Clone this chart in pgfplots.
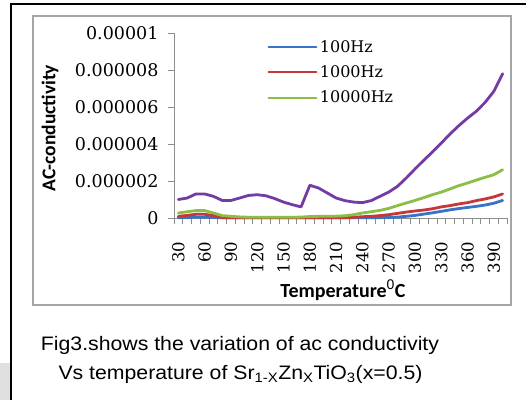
\documentclass[border=0pt]{standalone}
\usepackage{pgfplots}
\usepackage{pgfplotstable}
\pgfplotsset{compat=1.18}
\usepackage{fontspec}
\setmainfont{Liberation Sans}
\newfontfamily\captionfont[FakeStretch=1.09]{Liberation Sans}
\newfontfamily\tickfont{DejaVu Serif}
\newfontfamily\labelfont{Carlito}

\definecolor{sblue}{RGB}{55,115,200}
\definecolor{sred}{RGB}{200,55,55}
\definecolor{sgreen}{RGB}{140,190,70}
\definecolor{spurple}{RGB}{115,60,165}
\definecolor{axisgray}{RGB}{140,140,140}
\definecolor{framegray}{RGB}{165,165,165}

% AC conductivity versus temperature (deg C) at four frequencies
\pgfplotstableread{
T    f100     f1000    f10000   fhigh
30   0.02e-6  0.09e-6  0.27e-6  1.00e-6
40   0.03e-6  0.14e-6  0.34e-6  1.08e-6
50   0.04e-6  0.20e-6  0.40e-6  1.30e-6
60   0.04e-6  0.20e-6  0.40e-6  1.30e-6
70   0.03e-6  0.13e-6  0.27e-6  1.17e-6
80   0.01e-6  0.02e-6  0.13e-6  0.95e-6
90   0.01e-6  0.01e-6  0.09e-6  0.95e-6
100  0.01e-6  0.01e-6  0.06e-6  1.08e-6
110  0.01e-6  0.01e-6  0.04e-6  1.22e-6
120  0.01e-6  0.01e-6  0.04e-6  1.26e-6
130  0.01e-6  0.01e-6  0.04e-6  1.20e-6
140  0.01e-6  0.01e-6  0.04e-6  1.05e-6
150  0.01e-6  0.01e-6  0.04e-6  0.86e-6
160  0.01e-6  0.01e-6  0.04e-6  0.72e-6
170  0.01e-6  0.01e-6  0.05e-6  0.60e-6
180  0.01e-6  0.01e-6  0.08e-6  1.77e-6
190  0.01e-6  0.01e-6  0.09e-6  1.62e-6
200  0.01e-6  0.01e-6  0.09e-6  1.35e-6
210  0.01e-6  0.01e-6  0.10e-6  1.08e-6
220  0.01e-6  0.02e-6  0.12e-6  0.94e-6
230  0.01e-6  0.04e-6  0.18e-6  0.86e-6
240  0.01e-6  0.07e-6  0.27e-6  0.83e-6
250  0.01e-6  0.09e-6  0.34e-6  0.94e-6
260  0.02e-6  0.13e-6  0.41e-6  1.17e-6
270  0.03e-6  0.18e-6  0.52e-6  1.40e-6
280  0.05e-6  0.25e-6  0.67e-6  1.71e-6
290  0.09e-6  0.32e-6  0.81e-6  2.16e-6
300  0.14e-6  0.38e-6  0.95e-6  2.65e-6
310  0.21e-6  0.43e-6  1.10e-6  3.12e-6
320  0.28e-6  0.50e-6  1.26e-6  3.57e-6
330  0.36e-6  0.60e-6  1.40e-6  4.05e-6
340  0.44e-6  0.67e-6  1.57e-6  4.54e-6
350  0.51e-6  0.76e-6  1.75e-6  4.99e-6
360  0.57e-6  0.83e-6  1.89e-6  5.40e-6
370  0.63e-6  0.94e-6  2.05e-6  5.77e-6
380  0.70e-6  1.03e-6  2.20e-6  6.25e-6
390  0.80e-6  1.14e-6  2.34e-6  6.85e-6
400  0.95e-6  1.30e-6  2.61e-6  7.80e-6
}\conductivity

\begin{document}
\begin{tikzpicture}[x=1pt,y=1pt]
\useasboundingbox (0,0) rectangle (526,400);
\fill[white] (0,0) rectangle (526,400);
\fill[black!12] (0,0) rectangle (10,37);
\draw[line width=2pt] (11,0) -- (11,396) -- (527,396);
\draw[line width=1.5pt, framegray] (33,95) rectangle (511,384);

\begin{axis}[
  at={(174pt,182pt)}, anchor=south west,
  scale only axis, width=333pt, height=185pt,
  xmin=25, xmax=405, ymin=0, ymax=0.00001,
  scaled y ticks=false,
  axis x line*=bottom, axis y line*=left,
  axis line style={-, draw=axisgray, line width=1pt},
  tick align=outside,
  xtick={25,35,...,405}, xticklabels={},
  extra x ticks={30,60,...,390},
  extra x tick labels={30,60,90,120,150,180,210,240,270,300,330,360,390},
  extra x tick style={major tick length=0pt},
  major tick length=6pt,
  tick style={draw=axisgray, line width=0.8pt},
  ytick={0,0.000002,0.000004,0.000006,0.000008,0.00001},
  yticklabels={0,0.000002,0.000004,0.000006,0.000008,0.00001},
  xticklabel shift=20pt,
  x tick label style={rotate=90, anchor=east,
    font=\tickfont\fontsize{16.5}{16.5}\selectfont},
  y tick label style={font=\tickfont\fontsize{17.5}{17.5}\selectfont,
    xshift=-6pt},
  every axis y label/.style={at={(axis description cs:-0.372,0.486)},
    rotate=90, anchor=center,
    font=\labelfont\bfseries\fontsize{19.5}{19.5}\selectfont},
  every axis x label/.style={at={(axis description cs:0.5075,-0.39)},
    anchor=center,
    font=\labelfont\bfseries\fontsize{20}{20}\selectfont},
  ylabel={AC-conductivity},
  xlabel={Temperature$^{\mathrm{0}}$C},
  legend style={at={(axis description cs:0.279,0.973)}, anchor=north west,
    draw=none, fill=none, inner sep=0pt, row sep=8pt,
    font=\tickfont\fontsize{16}{16}\selectfont},
  legend cell align=left,
  legend image code/.code={\draw[#1] (0pt,0pt) -- (48pt,0pt);},
  every axis plot/.append style={line width=2.8pt, line join=round, line cap=round},
  clip=false,
]
% legend keys for the three lower frequencies, plus a blank closing row
\addlegendimage{draw=sblue, line width=1.8pt}
\addlegendentry{100Hz}
\addlegendimage{draw=sred, line width=1.8pt}
\addlegendentry{1000Hz}
\addlegendimage{draw=sgreen, line width=1.8pt}
\addlegendentry{10000Hz}
\addlegendimage{draw=none}
\addlegendentry{}

\addplot[sblue, forget plot] table[x=T, y=f100] {\conductivity};
\addplot[sred, forget plot] table[x=T, y=f1000] {\conductivity};
\addplot[sgreen, forget plot] table[x=T, y=f10000] {\conductivity};
\addplot[spurple, forget plot] table[x=T, y=fhigh] {\conductivity};
\end{axis}

% blank out the empty closing legend row
\fill[white] (262,271) rectangle (324,291);

\node[anchor=base, font=\captionfont\fontsize{19.5}{19.5}\selectfont] at (240,50)
  {Fig3.shows the variation of ac conductivity};
\node[anchor=base, font=\captionfont\fontsize{19.5}{19.5}\selectfont] at (240.5,21)
  {Vs temperature of Sr\textsubscript{1-X}Zn\textsubscript{X}TiO\textsubscript{3}(x=0.5)};
\end{tikzpicture}
\end{document}
